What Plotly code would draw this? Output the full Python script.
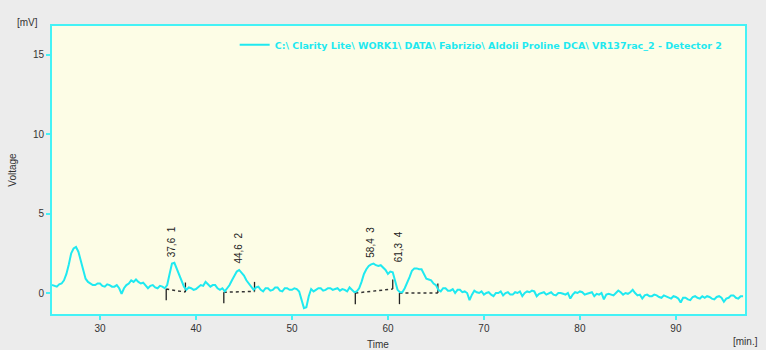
import numpy as np
import plotly.graph_objects as go

# ---- data (0.25 min sampling) ----
time_start, time_step = 25.0, 0.25
voltage = [
    0.5, 0.45, 0.4, 0.55, 0.6, 0.8, 1.2, 1.8,            # 25.0
    2.5, 2.8, 2.9, 2.6, 2.0, 1.4, 0.9, 0.7,              # 27.0
    0.6, 0.5, 0.5, 0.6, 0.6, 0.45, 0.4, 0.55,            # 29.0
    0.5, 0.4, 0.4, 0.5, 0.3, -0.05, 0.3, 0.5,            # 31.0
    0.6, 0.8, 0.7, 0.85, 0.7, 0.6, 0.65, 0.5,            # 33.0
    0.3, 0.45, 0.5, 0.35, 0.3, 0.45, 0.4, 0.3,           # 35.0
    0.5, 1.2, 1.85, 1.9, 1.5, 1.1, 0.8, 0.4,             # 37.0
    0.2, 0.35, 0.3, 0.2, 0.25, 0.4, 0.5, 0.45,           # 39.0
    0.7, 0.55, 0.4, 0.5, 0.5, 0.3, 0.2, 0.3,             # 41.0
    0.1, 0.3, 0.5, 0.8, 1.1, 1.35, 1.45, 1.3,            # 43.0
    1.1, 0.8, 0.6, 0.4, 0.2, 0.35, 0.4, 0.2,             # 45.0
    0.1, 0.3, 0.3, 0.15, 0.2, 0.35, 0.35, 0.15,          # 47.0
    0.1, 0.3, 0.3, 0.2, 0.2, 0.3, 0.25, 0.1,             # 49.0
    -0.4, -0.95, -0.9, -0.2, 0.25, 0.1, 0.2, 0.3,        # 51.0
    0.3, 0.15, 0.2, 0.3, 0.3, 0.2, 0.25, 0.3,            # 53.0
    0.15, 0.25, 0.2, 0.1, 0.35, 0.2, 0.05, 0.1,          # 55.0
    0.3, 0.7, 1.2, 1.5, 1.7, 1.8, 1.85, 1.75,            # 57.0
    1.7, 1.75, 1.6, 1.45, 1.2, 1.35, 1.3, 0.8,           # 59.0
    0.2, 0.05, 0.05, 0.3, 0.6, 1.0, 1.4, 1.55,           # 61.0
    1.55, 1.5, 1.5, 1.2, 0.9, 0.85, 0.8, 0.6,            # 63.0
    0.5, 0.2, 0.1, 0.3, 0.3, 0.15, 0.15, 0.25,           # 65.0
    0.0, 0.2, 0.2, 0.05, 0.1, 0.0, -0.45, -0.1,          # 67.0
    0.15, 0.05, 0.0, 0.1, -0.1, 0.0, 0.05, -0.1,         # 69.0
    -0.2, 0.0, 0.0, 0.1, -0.15, 0.0, 0.05, -0.1,         # 71.0
    -0.1, 0.05, 0.0, 0.1, -0.2, 0.0, 0.1, 0.05,          # 73.0
    0.15, 0.1, -0.2, -0.05, 0.0, 0.05, -0.1, 0.0,        # 75.0
    0.05, -0.1, -0.15, 0.0, 0.0, -0.05, -0.1, 0.0,       # 77.0
    -0.35, -0.1, 0.05, 0.0, 0.1, 0.05, -0.1, -0.05,      # 79.0
    0.0, 0.05, -0.2, -0.05, -0.1, 0.0, -0.4, -0.1,       # 81.0
    -0.05, -0.1, -0.15, 0.0, 0.15, 0.05, -0.1, 0.0,      # 83.0
    -0.05, 0.05, 0.2, 0.0, -0.15, -0.1, -0.35, -0.15,    # 85.0
    -0.1, -0.2, -0.2, -0.1, -0.15, -0.25, -0.3, -0.15,   # 87.0
    -0.2, -0.3, -0.35, -0.2, -0.25, -0.35, -0.6, -0.3,   # 89.0
    -0.3, -0.4, -0.45, -0.25, -0.2, -0.3, -0.35, -0.2,   # 91.0
    -0.3, -0.2, -0.25, -0.35, -0.4, -0.25, -0.2, -0.3,   # 93.0
    -0.55, -0.35, -0.3, -0.15, -0.15, -0.3, -0.35, -0.2, # 95.0
    -0.2,                                                # 97.0
]
time = [time_start + i * time_step for i in range(len(voltage))]

peak_number = [1, 2, 3, 4]
peak_rt_label = ["37,6", "44,6", "58,4", "61,3"]
peak_rt = [37.6, 44.6, 58.4, 61.3]
peak_top = [1.9, 1.45, 1.85, 1.55]
peak_start = [36.9, 42.9, 56.6, 61.2]
peak_end = [38.9, 46.1, 60.5, 65.2]
base_start_v = [0.25, 0.05, 0.0, 0.0]
base_end_v = [0.06, 0.1, 0.25, 0.0]

x_ticks = [30, 40, 50, 60, 70, 80, 90]
y_ticks = [0, 5, 10, 15]

legend_name = "C:\\ Clarity Lite\\ WORK1\\ DATA\\ Fabrizio\\ Aldoli Proline DCA\\ VR137rac_2 - Detector 2"

CYAN = "#1fe9f0"
AXIS = "#44f2f6"
FONT = "Liberation Sans, Arial, sans-serif"

fig = go.Figure()

# baselines and start/end marks
for i in range(len(peak_number)):
    fig.add_trace(go.Scatter(
        x=[peak_start[i], peak_end[i]], y=[base_start_v[i], base_end_v[i]],
        mode="lines", line=dict(color="#333333", width=1.5, dash="dot"),
        showlegend=False, hoverinfo="skip"))
    fig.add_trace(go.Scatter(
        x=[peak_start[i], peak_start[i]], y=[base_start_v[i], base_start_v[i] - 0.7],
        mode="lines", line=dict(color="#222222", width=1.3),
        showlegend=False, hoverinfo="skip"))
    fig.add_trace(go.Scatter(
        x=[peak_end[i], peak_end[i]], y=[base_end_v[i], base_end_v[i] + 0.6],
        mode="lines", line=dict(color="#222222", width=1.3),
        showlegend=False, hoverinfo="skip"))

fig.add_trace(go.Scatter(
    x=time, y=voltage, mode="lines", name=legend_name,
    line=dict(color=CYAN, width=2)))

for i in range(len(peak_number)):
    fig.add_annotation(
        x=peak_rt[i], y=peak_top[i], xref="x", yref="y",
        text=f"{peak_rt_label[i]}  {peak_number[i]}", textangle=-90,
        showarrow=False, xanchor="center", yanchor="bottom",
        xshift=-2, yshift=4,
        font=dict(family=FONT, size=10, color="#222222"))

axis_common = dict(showline=True, linecolor=AXIS, linewidth=2, mirror=True,
                   ticks="outside", tickcolor=AXIS, ticklen=4, tickwidth=1.5,
                   showgrid=False, zeroline=False,
                   tickfont=dict(family=FONT, size=10, color="#333333"))

fig.update_xaxes(range=[25, 97.2], tickvals=x_ticks, **axis_common)
fig.update_yaxes(range=[-1.32, 16.8], tickvals=y_ticks,
                 title=dict(text="Voltage", font=dict(family=FONT, size=10, color="#333333"),
                            standoff=14),
                 **axis_common)

fig.add_annotation(x=-0.035, y=1.0, xref="paper", yref="paper", text="[mV]",
                   showarrow=False, xanchor="center", yanchor="bottom", yshift=-4,
                   font=dict(family=FONT, size=10, color="#333333"))
fig.add_annotation(x=0.47, y=0, xref="paper", yref="paper", text="Time",
                   showarrow=False, xanchor="center", yanchor="top", yshift=-23,
                   font=dict(family=FONT, size=10, color="#333333"))
fig.add_annotation(x=1.0, y=0, xref="paper", yref="paper", text="[min.]",
                   showarrow=False, xanchor="center", yanchor="top", yshift=-20, xshift=0,
                   font=dict(family=FONT, size=10, color="#333333"))

fig.update_layout(
    width=766, height=350,
    margin=dict(l=45, r=21, t=26, b=36),
    paper_bgcolor="#ececec", plot_bgcolor="#fdfde6",
    showlegend=True,
    legend=dict(x=0.975, y=0.985, xanchor="right", yanchor="top",
                bgcolor="rgba(0,0,0,0)", itemwidth=30,
                font=dict(family="DejaVu Sans, sans-serif", size=9.5, color=CYAN,
                          weight="bold")),
)

fig.write_html("out.html",
               config={"displayModeBar": False},
               post_script="document.body.style.margin='0';"
                           "document.body.style.overflow='hidden';")
